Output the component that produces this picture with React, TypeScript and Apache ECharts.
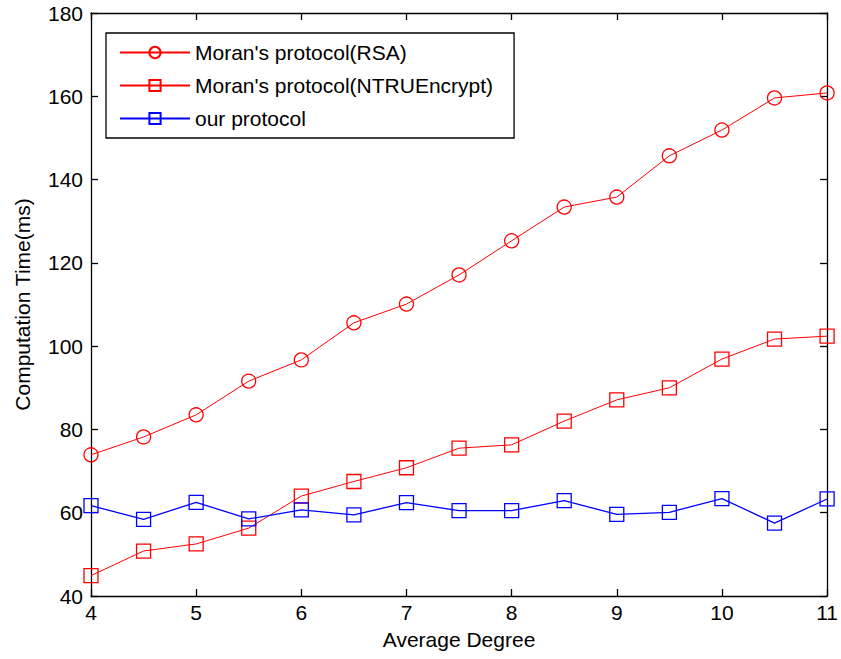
import React, { useEffect, useRef } from "react";
import * as echarts from "echarts";

const degrees = [4, 4.5, 5, 5.5, 6, 6.5, 7, 7.5, 8, 8.5, 9, 9.5, 10, 10.5, 11];
const rsaValues = [73.9, 78.2, 83.5, 91.6, 96.7, 105.6, 110.1, 117.1, 125.3, 133.4, 135.8, 145.7, 151.9, 159.6, 160.8];
const ntruValues = [44.9, 50.8, 52.5, 56.3, 64.0, 67.5, 70.8, 75.5, 76.3, 82.0, 87.1, 90.0, 96.9, 101.7, 102.4];
const ourValues = [61.7, 58.4, 62.5, 58.5, 60.7, 59.5, 62.4, 60.5, 60.5, 62.9, 59.6, 60.1, 63.4, 57.5, 63.3];
const seriesNames = ["Moran's protocol(RSA)", "Moran's protocol(NTRUEncrypt)", "our protocol"];

const FONT = "'Liberation Sans', Arial, sans-serif";
const FS = 21;

export default function App() {
  const ref = useRef<HTMLDivElement>(null);
  useEffect(() => {
    if (!ref.current) return;
    const chart = echarts.init(ref.current, null, { renderer: "svg" });
    const pair = (vals: number[]) => degrees.map((d, i) => [d, vals[i]]);
    const axisBase = {
      type: "value" as const,
      axisLine: { show: true, lineStyle: { color: "#000", width: 1.3 } },
      axisTick: { show: true, inside: true, length: 7, lineStyle: { color: "#000", width: 1.3 } },
      splitLine: { show: false },
    };
    const mk = (name: string, vals: number[], color: string, symbol: string, size: number, width: number) => ({
      name,
      type: "line",
      data: pair(vals),
      symbol,
      symbolSize: size,
      showSymbol: true,
      lineStyle: { color, width },
      itemStyle: { color: "rgba(255,255,255,0)", borderColor: color, borderWidth: 1.3 },
      emphasis: { disabled: true },
      z: 3,
    });
    chart.setOption({
      animation: false,
      backgroundColor: "#fff",
      grid: { left: 91, right: 12, top: 13, bottom: 63, containLabel: false },
      xAxis: [
        {
          ...axisBase,
          position: "bottom",
          min: 4,
          max: 11,
          interval: 1,
          name: "Average Degree",
          nameLocation: "middle",
          nameGap: 33,
          nameTextStyle: { color: "#000", fontSize: FS, fontFamily: FONT },
          axisLabel: { color: "#000", fontSize: FS, fontFamily: FONT, margin: 6 },
        },
        {
          ...axisBase,
          position: "top",
          min: 4,
          max: 11,
          interval: 1,
          axisLabel: { show: false },
        },
      ],
      yAxis: [
        {
          ...axisBase,
          position: "left",
          min: 40,
          max: 180,
          interval: 20,
          name: "Computation Time(ms)",
          nameLocation: "middle",
          nameGap: 58,
          nameTextStyle: { color: "#000", fontSize: FS, fontFamily: FONT },
          axisLabel: { color: "#000", fontSize: FS, fontFamily: FONT, margin: 8 },
        },
        {
          ...axisBase,
          position: "right",
          min: 40,
          max: 180,
          interval: 20,
          axisLabel: { show: false },
        },
      ],
      legend: {
        left: 106,
        top: 33,
        orient: "vertical",
        data: seriesNames,
        itemWidth: 70,
        itemHeight: 14,
        itemGap: 12,
        padding: [9, 21, 9, 13],
        borderColor: "#000",
        borderWidth: 1.3,
        backgroundColor: "#fff",
        textStyle: { color: "#000", fontSize: FS, fontFamily: FONT },
        selectedMode: false,
      },
      series: [
        mk(seriesNames[0], rsaValues, "#ff0000", "circle", 14, 1),
        mk(seriesNames[1], ntruValues, "#ff0000", "rect", 14, 1),
        mk(seriesNames[2], ourValues, "#0000ff", "rect", 14, 1.3),
      ],
    });
    return () => chart.dispose();
  }, []);
  return <div ref={ref} style={{ width: 841, height: 659, position: "absolute", left: 0, top: 0 }} />;
}
